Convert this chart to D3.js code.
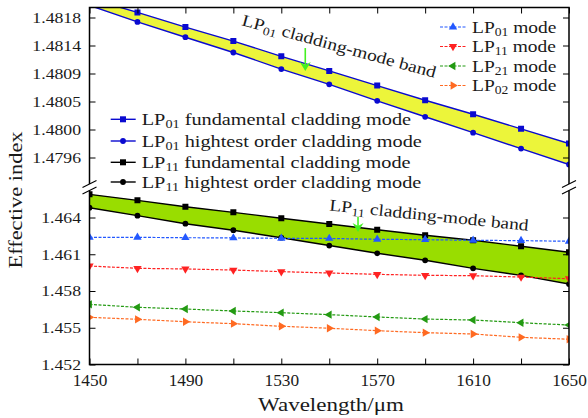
<!DOCTYPE html>
<html><head><meta charset="utf-8">
<script src="https://cdn.jsdelivr.net/npm/d3@7"></script>
<style>
body{margin:0;background:#fff}
svg{display:block}
text{font-family:"Liberation Serif","Times New Roman",serif;fill:#1a1a1a}
</style>
</head><body>
<svg id="chart" width="588" height="418"></svg>
<script>
// ---------------- data ----------------
const wavelengths = [1450,1470,1490,1510,1530,1550,1570,1590,1610,1630,1650];
const lp01Fundamental = [1.48210,1.48188,1.48165,1.48143,1.48119,1.48096,1.48073,1.48050,1.48028,1.48005,1.47982];
const lp01Highest     = [1.48199,1.48173,1.48149,1.48125,1.48099,1.48075,1.48049,1.48024,1.47999,1.47974,1.47949];
const lp11Fundamental = [1.46589,1.46540,1.46488,1.46442,1.46394,1.46347,1.46300,1.46255,1.46214,1.46165,1.46116];
const lp11Highest     = [1.46480,1.46415,1.46349,1.46296,1.46235,1.46171,1.46108,1.46051,1.45985,1.45928,1.45857];
const lp01Mode = [1.46238,1.46238,1.46235,1.46233,1.46230,1.46229,1.46222,1.46219,1.46214,1.46211,1.46206];
const lp11Mode = [1.46004,1.45985,1.45980,1.45971,1.45958,1.45947,1.45936,1.45928,1.45925,1.45914,1.45900];
const lp21Mode = [1.45691,1.45667,1.45653,1.45637,1.45623,1.45607,1.45588,1.45571,1.45563,1.45541,1.45522];
const lp02Mode = [1.45585,1.45569,1.45549,1.45533,1.45512,1.45496,1.45476,1.45460,1.45449,1.45422,1.45406];

const topTickValues = [1.4796,1.48004,1.48048,1.48092,1.48136,1.4818];
const topTickLabels = ["1.4796","1.4800","1.4805","1.4809","1.4814","1.4818"];
const bottomTickValues = [1.452,1.455,1.458,1.461,1.464];
const bottomTickLabels = ["1.452","1.455","1.458","1.461","1.464"];
const xTickValues = [1450,1470,1490,1510,1530,1550,1570,1590,1610,1630,1650];
const xTickLabels = ["1450","","1490","","1530","","1570","","1610","","1650"];

// legend labels: [main, subscript, rest]
const modeLegend = [["LP","01"," mode"],["LP","11"," mode"],["LP","21"," mode"],["LP","02"," mode"]];
const claddingLegend = [["LP","01"," fundamental cladding mode"],["LP","01"," hightest order cladding mode"],
                        ["LP","11"," fundamental cladding mode"],["LP","11"," hightest order cladding mode"]];
const bandLabels = [["LP","01"," cladding-mode band"],["LP","11"," cladding-mode band"]];
// arrows: [wavelength, start index value, tip index value]
const arrowTop = [1540, 1.48132, 1.48096];
const arrowBottom = [1562, 1.46406, 1.46282];

// ---------------- layout ----------------
const L = 89.5, R = 569;
const topPanel = [7.5, 184];
const botPanel = [190.5, 364.5];
const SX = 1.18;

const svg = d3.select("#chart");
const x = d3.scaleLinear().domain([1450,1650]).range([L,R]);
const yTop = d3.scaleLinear().domain([1.4796,1.4818]).range([157.5,17.5]);
const yBot = d3.scaleLinear().domain([1.452,1.464]).range([364.5,217.5]);

const defs = svg.append("defs");
defs.append("clipPath").attr("id","clipTop").append("rect")
  .attr("x",L).attr("y",topPanel[0]).attr("width",R-L).attr("height",topPanel[1]-topPanel[0]);
defs.append("clipPath").attr("id","clipBot").append("rect")
  .attr("x",L).attr("y",botPanel[0]).attr("width",R-L).attr("height",botPanel[1]-botPanel[0]);

const C = {
  blueDark:"#0a0ad0", black:"#000",
  yellow:"#ecf53a", green:"#99dd00",
  lp01:"#2358ff", lp11:"#ff2222", lp21:"#239a12", lp02:"#ff6a22",
  arrow:"#44f022"
};

function richText(parent, parts, size, tx, ty, rot, anchor, sx){
  const t = parent.append("text")
    .attr("font-size", size)
    .attr("text-anchor", anchor || "start")
    .attr("transform", `translate(${tx},${ty}) rotate(${rot||0}) scale(${sx||SX},1)`);
  t.append("tspan").text(parts[0]);
  if (parts[1]) {
    t.append("tspan").attr("font-size", size*0.7).attr("dy", size*0.2).text(parts[1]);
    t.append("tspan").attr("dy", -size*0.2).text(parts[2]);
  }
  return t;
}

// ---------------- top panel ----------------
const gTop = svg.append("g").attr("clip-path","url(#clipTop)");
const areaTop = d3.area().x((d,i)=>x(wavelengths[i])).y0((d,i)=>yTop(lp01Highest[i])).y1(d=>yTop(d));
gTop.append("path").datum(lp01Fundamental).attr("d",areaTop).attr("fill",C.yellow);
const lineTop = d3.line().x((d,i)=>x(wavelengths[i])).y(d=>yTop(d));
[[lp01Fundamental,d3.symbolSquare,36],[lp01Highest,d3.symbolCircle,26]].forEach(([s,sym,sz])=>{
  gTop.append("path").datum(s).attr("d",lineTop).attr("fill","none").attr("stroke",C.blueDark).attr("stroke-width",1.4);
  gTop.selectAll(null).data(s).enter().append("path")
    .attr("d",d3.symbol().type(sym).size(sz))
    .attr("transform",(d,i)=>`translate(${x(wavelengths[i])},${yTop(d)})`)
    .attr("fill",C.blueDark);
});

// ---------------- bottom panel ----------------
const gBot = svg.append("g").attr("clip-path","url(#clipBot)");
const areaBot = d3.area().x((d,i)=>x(wavelengths[i])).y0((d,i)=>yBot(lp11Highest[i])).y1(d=>yBot(d));
gBot.append("path").datum(lp11Fundamental).attr("d",areaBot).attr("fill",C.green);
const lineBot = d3.line().x((d,i)=>x(wavelengths[i])).y(d=>yBot(d));
[[lp11Fundamental,d3.symbolSquare,36],[lp11Highest,d3.symbolCircle,26]].forEach(([s,sym,sz])=>{
  gBot.append("path").datum(s).attr("d",lineBot).attr("fill","none").attr("stroke",C.black).attr("stroke-width",1.4);
  gBot.selectAll(null).data(s).enter().append("path")
    .attr("d",d3.symbol().type(sym).size(sz))
    .attr("transform",(d,i)=>`translate(${x(wavelengths[i])},${yBot(d)})`)
    .attr("fill",C.black);
});
const modeSeries = [
  [lp01Mode, C.lp01, 0],
  [lp11Mode, C.lp11, 180],
  [lp21Mode, C.lp21, -90],
  [lp02Mode, C.lp02, 90]
];
modeSeries.forEach(([s,col,rot])=>{
  gBot.append("path").datum(s).attr("d",lineBot).attr("fill","none").attr("stroke",col)
    .attr("stroke-width",1.2).attr("stroke-dasharray","3,1.5");
  gBot.selectAll(null).data(s).enter().append("path")
    .attr("d",d3.symbol().type(d3.symbolTriangle).size(30))
    .attr("transform",(d,i)=>`translate(${x(wavelengths[i])},${yBot(d)}) rotate(${rot})`)
    .attr("fill",col);
});

// ---------------- axes ----------------
function styleAxis(g){
  g.select(".domain").remove();
  g.selectAll(".tick line").attr("stroke","#000").attr("stroke-width",1);
  g.selectAll(".tick text").attr("fill","#1a1a1a").attr("font-family",null);
}
// left
const axTopL = svg.append("g").attr("transform",`translate(${L},0)`)
  .call(d3.axisLeft(yTop).tickValues(topTickValues).tickSize(-6).tickPadding(8.5)
  .tickFormat((d,i)=>topTickLabels[i])).call(styleAxis);
const axBotL = svg.append("g").attr("transform",`translate(${L},0)`)
  .call(d3.axisLeft(yBot).tickValues(bottomTickValues).tickSize(-6).tickPadding(8.5)
  .tickFormat((d,i)=>bottomTickLabels[i])).call(styleAxis);
[axTopL,axBotL].forEach(g=>{
  g.attr("font-size",15);
  g.selectAll(".tick text").each(function(){
    const t=d3.select(this); const xx=+t.attr("x");
    t.attr("x",0).attr("transform",`translate(${xx},0) scale(${SX},1)`);
  });
});
// right
svg.append("g").attr("transform",`translate(${R},0)`)
  .call(d3.axisRight(yTop).tickValues(topTickValues).tickSize(-6).tickFormat("")).call(styleAxis);
svg.append("g").attr("transform",`translate(${R},0)`)
  .call(d3.axisRight(yBot).tickValues(bottomTickValues).tickSize(-6).tickFormat("")).call(styleAxis);
// bottom
const axX = svg.append("g").attr("transform",`translate(0,${botPanel[1]})`)
  .call(d3.axisBottom(x).tickValues(xTickValues).tickSize(-6).tickPadding(10.5)
  .tickFormat((d,i)=>xTickLabels[i])).call(styleAxis);
axX.attr("font-size",16);
axX.selectAll(".tick text").attr("transform",`scale(1.08,1)`);
// top
svg.append("g").attr("transform",`translate(0,${topPanel[0]})`)
  .call(d3.axisTop(x).tickValues(xTickValues).tickSize(-6).tickFormat("")).call(styleAxis);

// frame lines with break
const frame = svg.append("g").attr("stroke","#000").attr("stroke-width",1.5).attr("fill","none");
frame.append("path").attr("d",`M${L},${topPanel[1]}V${topPanel[0]}H${R}V${topPanel[1]}`);
frame.append("path").attr("d",`M${L},${botPanel[0]}V${botPanel[1]}H${R}V${botPanel[0]}`);
[L,R].forEach(xx=>{
  [topPanel[1],botPanel[0]].forEach(yy=>{
    frame.append("line").attr("x1",xx-7).attr("y1",yy+3.5).attr("x2",xx+7).attr("y2",yy-3.5).attr("stroke-width",1.2);
  });
});

// ---------------- arrows ----------------
function arrow(a, ys){
  const ax = x(a[0]), y1 = ys(a[1]), y2 = ys(a[2]);
  svg.append("line").attr("x1",ax).attr("x2",ax).attr("y1",y1).attr("y2",y2-4)
    .attr("stroke",C.arrow).attr("stroke-width",1.6);
  svg.append("path").attr("d",`M${ax-5.5},${y2-9}L${ax},${y2-6}L${ax+5.5},${y2-9}L${ax},${y2}Z`).attr("fill",C.arrow);
}
arrow(arrowTop, yTop);
arrow(arrowBottom, yBot);

// ---------------- annotations ----------------
richText(svg, bandLabels[0], 16.5, 241, 25, 15.3);
richText(svg, bandLabels[1], 16.5, 329, 210.5, 5.8);

// ---------------- legends ----------------
const modeCols = [C.lp01,C.lp11,C.lp21,C.lp02];
const modeRots = [0,180,-90,90];
const modeRows = [27,46.5,66,85.5];
modeLegend.forEach((lab,i)=>{
  const yy = modeRows[i];
  svg.append("line").attr("x1",440).attr("x2",466).attr("y1",yy).attr("y2",yy)
    .attr("stroke",modeCols[i]).attr("stroke-width",1.2).attr("stroke-dasharray","3,1.5");
  svg.append("path").attr("d",d3.symbol().type(d3.symbolTriangle).size(30))
    .attr("transform",`translate(453,${yy}) rotate(${modeRots[i]})`).attr("fill",modeCols[i]);
  richText(svg, lab, 16.5, 472, yy+5.5, 0);
});
const cladCols = [C.blueDark,C.blueDark,C.black,C.black];
const cladSyms = [d3.symbolSquare,d3.symbolCircle,d3.symbolSquare,d3.symbolCircle];
const cladSizes = [36,26,36,26];
const cladRows = [119.3,141,162.3,182];
claddingLegend.forEach((lab,i)=>{
  const yy = cladRows[i];
  svg.append("line").attr("x1",110.7).attr("x2",135.7).attr("y1",yy).attr("y2",yy)
    .attr("stroke",cladCols[i]).attr("stroke-width",1.4);
  svg.append("path").attr("d",d3.symbol().type(cladSyms[i]).size(cladSizes[i]))
    .attr("transform",`translate(123,${yy})`).attr("fill",cladCols[i]);
  richText(svg, lab, 16.5, 141.7, yy+5.5, 0, "start", 1.23);
});

// ---------------- axis titles ----------------
richText(svg, ["Wavelength/μm"], 19.5, 331, 411, 0, "middle");
richText(svg, ["Effective index"], 19, 22, 200, -90, "middle");
</script>
</body></html>
